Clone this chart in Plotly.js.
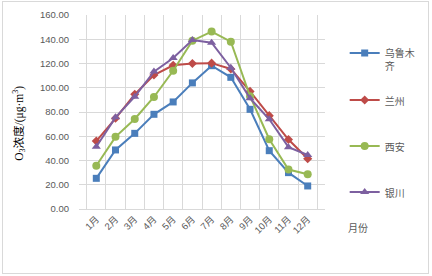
<!DOCTYPE html>
<html>
<head>
<meta charset="utf-8">
<script src="https://cdn.plot.ly/plotly-3.0.1.min.js"></script>
<style>
html,body{margin:0;padding:0;background:#fff;}
#wrap{position:relative;width:432px;height:276px;}
#chart{width:432px;height:276px;}
#frame{position:absolute;left:2px;top:1px;width:425px;height:271px;border:1px solid #d9d9d9;pointer-events:none;}
</style>
</head>
<body>
<div id="wrap"><div id="chart"></div><div id="frame"></div></div>
<script>
const months = ['1月','2月','3月','4月','5月','6月','7月','8月','9月','10月','11月','12月'];
const seriesNames = ['乌鲁木<br>齐','兰州','西安','银川'];
const urumqi   = [25.3, 48.7, 62.4, 78.1, 88.3, 104.0, 118.2, 108.6, 82.2, 48.1, 30.0, 19.0];
const lanzhou  = [56.0, 74.8, 94.6, 110.5, 118.5, 120.0, 120.3, 115.5, 97.0, 77.0, 57.3, 41.5];
const xian     = [35.7, 59.5, 74.2, 92.4, 114.0, 138.8, 146.3, 138.0, 93.0, 57.5, 32.5, 28.6];
const yinchuan = [51.4, 75.6, 92.6, 113.3, 124.5, 139.4, 137.2, 116.5, 91.3, 74.0, 51.0, 44.5];
const yTicks = [0, 20, 40, 60, 80, 100, 120, 140, 160];

const colors = ['#4a7ebb', '#be4b48', '#98b954', '#7d60a0'];
const symbols = ['square', 'diamond', 'circle', 'triangle-up'];
const sizes = [7, 7, 8, 8];
const legendIds = ['legend', 'legend2', 'legend3', 'legend4'];
const legendTops = [0.871, 0.629, 0.392, 0.155];
const data = [urumqi, lanzhou, xian, yinchuan].map((v, i) => ({
  type: 'scatter', mode: 'lines+markers', x: months, y: v, name: seriesNames[i],
  legend: legendIds[i],
  line: {color: colors[i], width: 2},
  marker: {color: colors[i], symbol: symbols[i], size: sizes[i]}
}));

const font = "'Liberation Sans', 'Noto Sans CJK SC', sans-serif";
const layout = {
  width: 432, height: 276,
  margin: {l: 79, r: 102, t: 15, b: 67},
  paper_bgcolor: '#fff', plot_bgcolor: '#fff',
  font: {family: font, size: 10, color: '#595959'},
  showlegend: true,
  xaxis: {type: 'category', tickangle: -45, tickson: 'boundaries', showgrid: true,
          gridcolor: '#d9d9d9', gridwidth: 1, showline: true, linecolor: '#d9d9d9',
          ticks: '', tickfont: {size: 9.5, color: '#595959'}, mirror: false, fixedrange: true},
  yaxis: {range: [0, 160], tickvals: yTicks, tickformat: '.2f', showgrid: true,
          gridcolor: '#d9d9d9', gridwidth: 1, zeroline: false, showline: false,
          ticks: '', ticklabelstandoff: 9, tickfont: {size: 9.5, color: '#595959'}},
  annotations: [
    {text: 'O<sub>3</sub>浓度/(μg·m<sup>3</sup>)', xref: 'paper', yref: 'paper',
     x: -0.245, y: 0.443, xanchor: 'center', yanchor: 'middle', textangle: -90, showarrow: false,
     font: {family: "'Liberation Serif', 'Noto Sans CJK SC', serif", size: 11.5, color: '#000'}},
    {text: '月份', xref: 'paper', yref: 'paper', x: 1.085, y: -0.1, xanchor: 'left', yanchor: 'middle',
     showarrow: false, font: {size: 10, color: '#595959'}}
  ]
};
legendIds.forEach((id, i) => {
  layout[id] = {x: 1.08, y: legendTops[i], xanchor: 'left', yanchor: 'top', valign: 'top',
                bgcolor: 'rgba(0,0,0,0)', font: {size: 10, color: '#595959'}, itemwidth: 30};
});
Plotly.newPlot('chart', data, layout, {staticPlot: true});
</script>
</body>
</html>
